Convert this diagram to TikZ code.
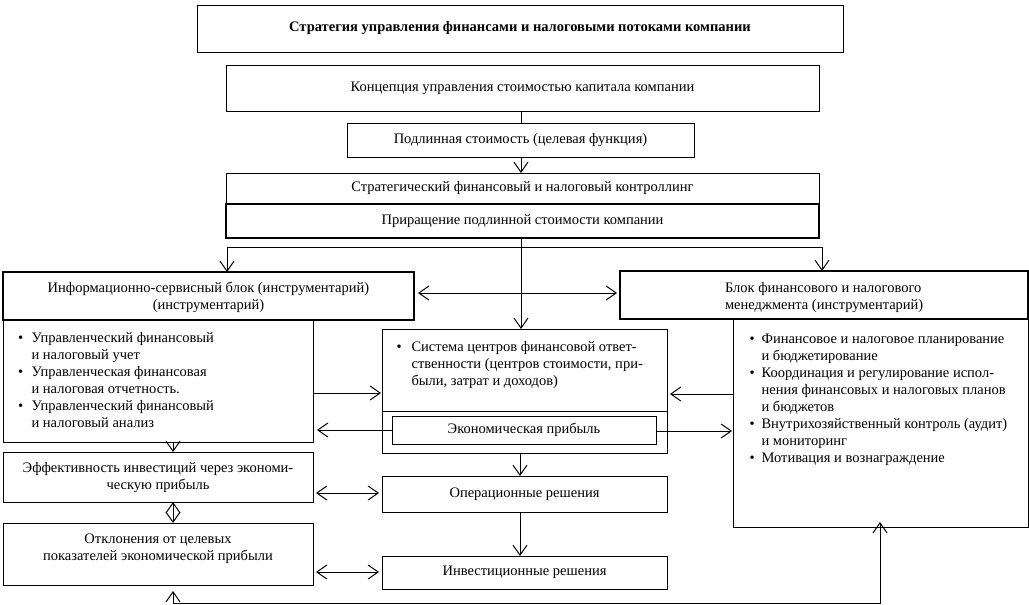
\documentclass[tikz,border=0pt]{standalone}
\usepackage{fontspec}
\setmainfont{Liberation Serif}
\usetikzlibrary{arrows.meta}
\newcommand{\fs}{\fontsize{14.5}{17}\selectfont}
\begin{document}
\begin{tikzpicture}[x=1pt,y=-1pt,
  box/.style={draw, line width=1pt, inner sep=0pt, outer sep=0pt, align=center, font=\fs},
  hbox/.style={box, line width=1.4pt},
  txt/.style={inner sep=0pt, outer sep=0pt, font=\fs},
  ln/.style={line width=1pt},
  tip/.tip={Straight Barb[length=10pt,width=14pt]},
  arr/.style={ln, -tip},
  darr/.style={ln, tip-tip}]
\fill[white] (0,0) rectangle (1029,605);
\useasboundingbox (0,0) rectangle (1029,605);

% top chain
\node[box, minimum width=646pt, minimum height=47pt] (title) at (520,28.5) {\bfseries Стратегия управления финансами и налоговыми потоками компании};
\node[box, minimum width=593pt, minimum height=46pt] (concept) at (522.5,88) {Концепция управления стоимостью капитала компании};
\node[box, minimum width=347pt, minimum height=34pt] (podl) at (520.5,140) {Подлинная стоимость (целевая функция)};
\node[box, minimum width=593pt, minimum height=31pt] (ctrl1) at (522.5,188.5) {Стратегический финансовый и налоговый контроллинг};
\node[hbox, minimum width=593pt, minimum height=34pt] (ctrl2) at (522.5,221) {Приращение подлинной стоимости компании};

% left column
\node[hbox, minimum width=411pt, minimum height=48pt] (lhead) at (208.5,296) {};
\node[txt, anchor=base] (lhtxt) at (208.5,292) {\begin{tabular}[t]{@{}c@{}}Информационно-сервисный блок (инструментарий)\\(инструментарий)\end{tabular}};
\node[box, minimum width=310pt, minimum height=122pt] (llist) at (158,381) {};
\node[txt, anchor=base west] (ltext) at (18,342) {\begin{tabular}[t]{@{}l@{\hspace{8.5pt}}l@{}}
\textbullet & Управленческий финансовый\\
 & и налоговый учет\\
\textbullet & Управленческая финансовая\\
 & и налоговая отчетность.\\
\textbullet & Управленческий финансовый\\
 & и налоговый анализ
\end{tabular}};
\node[box, minimum width=310pt, minimum height=50pt] (eff) at (158,477) {};
\node[txt, anchor=base] (etxt) at (158,472) {\begin{tabular}[t]{@{}c@{}}Эффективность инвестиций через экономи-\\ческую прибыль\end{tabular}};
\node[box, minimum width=310pt, minimum height=62pt] (otkl) at (158,554) {};
\node[txt, anchor=base] (otxt) at (158,543) {\begin{tabular}[t]{@{}c@{}}Отклонения от целевых\\показателей экономической прибыли\end{tabular}};

% centre column
\node[box, minimum width=285pt, minimum height=124pt] (sys) at (524.5,391) {};
\draw[ln] (sys.west |- 0,411) -- (sys.east |- 0,411);
\node[txt, anchor=base west] (stext) at (396.5,351) {\begin{tabular}[t]{@{}l@{\hspace{10pt}}l@{}}
\textbullet & Система центров финансовой ответ-\\
 & ственности (центров стоимости, при-\\
 & были, затрат и доходов)
\end{tabular}};
\node[box, minimum width=264pt, minimum height=28pt] (econ) at (524,430) {Экономическая прибыль};
\node[box, minimum width=285pt, minimum height=36pt] (op) at (524.5,494) {Операционные решения};
\node[box, minimum width=285pt, minimum height=33pt] (inv) at (524.5,572.5) {Инвестиционные решения};

% right column
\node[hbox, minimum width=408pt, minimum height=48pt] (rhead) at (824,295) {};
\node[txt, anchor=base west] (rhtxt) at (725,292) {\begin{tabular}[t]{@{}l@{}}Блок финансового и налогового\\менеджмента (инструментарий)\end{tabular}};
\node[box, minimum width=295pt, minimum height=208pt] (rlist) at (880.5,423) {};
\node[txt, anchor=base west] (rtext) at (749.5,343) {\begin{tabular}[t]{@{}l@{\hspace{7pt}}l@{}}
\textbullet & Финансовое и налоговое планирование\\
 & и бюджетирование\\
\textbullet & Координация и регулирование испол-\\
 & нения финансовых и налоговых планов\\
 & и бюджетов\\
\textbullet & Внутрихозяйственный контроль (аудит)\\
 & и мониторинг\\
\textbullet & Мотивация и вознаграждение
\end{tabular}};

% connectors
\draw[ln] (concept.south -| 521,0) -- (podl.north -| 521,0);
\draw[arr] (podl.south -| 521,0) -- (ctrl1.north -| 521,0);
\draw[arr] (ctrl2.south -| 521,0) -- (sys.north -| 521,0);
\coordinate (split) at (521,247);
\draw[arr] (split) -| (lhead.north -| 227,0);
\draw[arr] (split) -| (rhead.north -| 822,0);
\draw[darr] ([xshift=4pt]lhead.east |- 0,293) -- ([xshift=-3pt]rhead.west |- 0,293);
\draw[arr] (llist.east |- 0,393) -- ([xshift=-1pt]sys.west |- 0,393);
\draw[arr] (econ.west |- 0,430) -- ([xshift=4pt]llist.east |- 0,430);
\draw[arr] (rlist.west |- 0,394) -- ([xshift=3pt]sys.east |- 0,394);
\draw[arr] (econ.east |- 0,431) -- ([xshift=-1pt]rlist.west |- 0,431);
\draw[arr] (sys.south -| 520,0) -- (op.north -| 520,0);
\draw[arr] (op.south -| 520,0) -- (inv.north -| 520,0);
\draw[darr] ([xshift=3pt]eff.east |- 0,493) -- ([xshift=-3pt]op.west |- 0,493);
\draw[darr] ([xshift=3pt]otkl.east |- 0,572) -- ([xshift=-3pt]inv.west |- 0,572);
\draw[arr] (llist.south -| 173,0) -- (eff.north -| 173,0);
\draw[darr] (eff.south -| 173,0) -- (otkl.north -| 173,0);
\coordinate (fbl) at (173,603);
\coordinate (fbr) at (880,603);
\draw[darr] ([yshift=-6pt]otkl.south -| fbl) -- (fbl) -- (fbr) -- ([yshift=5pt]rlist.south -| fbr);
\end{tikzpicture}
\end{document}
